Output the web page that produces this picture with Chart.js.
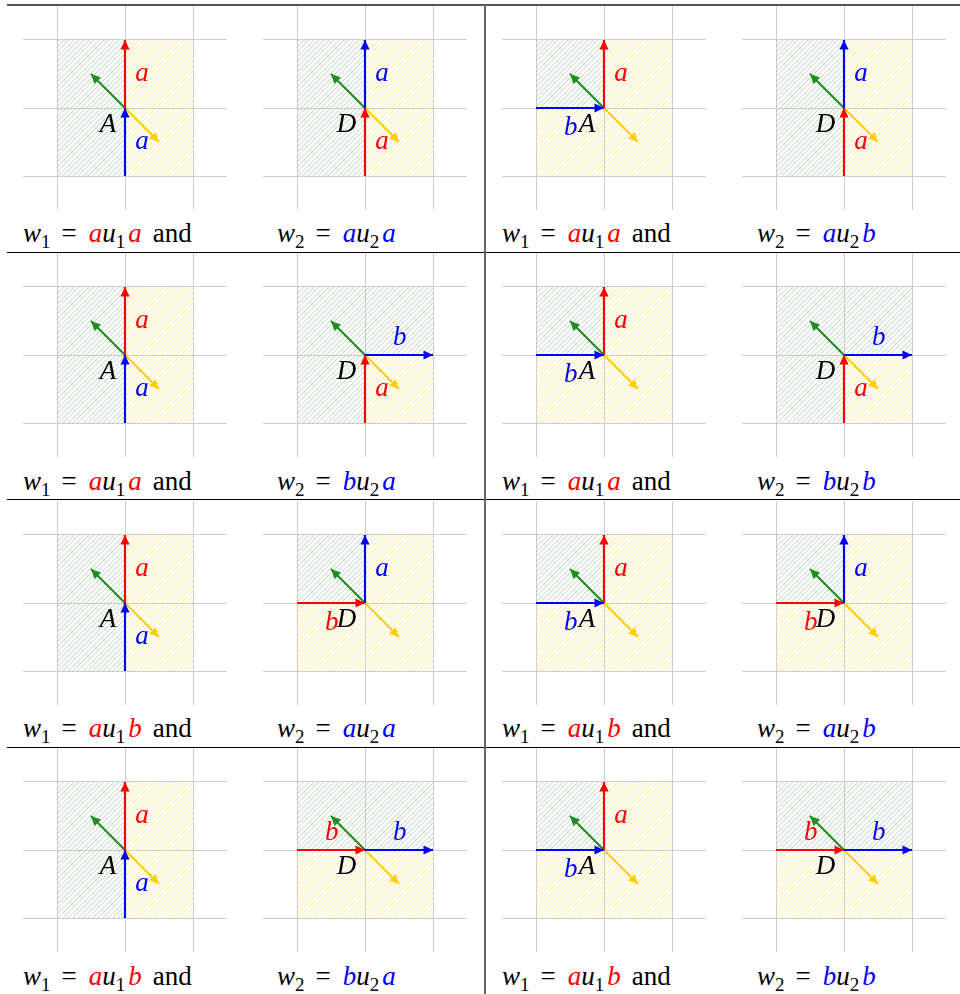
<!DOCTYPE html>
<html>
<head>
<meta charset="utf-8">
<script src="https://cdn.jsdelivr.net/npm/chart.js@4.4.1/dist/chart.umd.min.js"></script>
<style>
  html, body { margin: 0; padding: 0; background: #fff; }
  #fig { position: relative; width: 960px; height: 994px; overflow: hidden; font-family: "Liberation Serif", "Times New Roman", "DejaVu Serif", serif; }
  canvas.diag { position: absolute; }
  .rule { position: absolute; }
  .formula { position: absolute; font-size: 27px; line-height: 27px; white-space: nowrap; color: #000; }
  .formula .s { font-size: 19px; position: relative; top: 6px; margin-right: 3px; }
  .formula .eq { margin: 0 12px 0 8px; }
  .formula .and { margin-left: 11px; }
  .r { color: #ff0000; }
  .b { color: #0000ff; }
</style>
</head>
<body>
<div id="fig"></div>
<script>
// grid of each small diagram
const GRID_TICKS = [-1, 0, 1];

// edge vectors (start, end) in grid units
const EDGES = {
  upOut:    [[0, 0], [0, 1]],
  upIn:     [[0, -1], [0, 0]],
  rightOut: [[0, 0], [1, 0]],
  rightIn:  [[-1, 0], [0, 0]]
};
const GREEN_EDGE = [[0, 0], [-0.5, 0.5]];
const YELLOW_EDGE = [[0, 0], [0.5, -0.5]];

// quadrants by lower-left corner
const QUADS = { TL: [-1, 0], TR: [0, 0], BL: [-1, -1], BR: [0, -1] };

// 16 diagrams, row by row: A (left), D (left), A (right), D (right)
const vertexNames = [
  'A', 'D', 'A', 'D',
  'A', 'D', 'A', 'D',
  'A', 'D', 'A', 'D',
  'A', 'D', 'A', 'D'
];
const redEdges = [
  'upOut', 'upIn', 'upOut', 'upIn',
  'upOut', 'upIn', 'upOut', 'upIn',
  'upOut', 'rightIn', 'upOut', 'rightIn',
  'upOut', 'rightIn', 'upOut', 'rightIn'
];
const blueEdges = [
  'upIn', 'upOut', 'rightIn', 'upOut',
  'upIn', 'rightOut', 'rightIn', 'rightOut',
  'upIn', 'upOut', 'rightIn', 'upOut',
  'upIn', 'rightOut', 'rightIn', 'rightOut'
];
const redLabels = [
  'a', 'a', 'a', 'a',
  'a', 'a', 'a', 'a',
  'a', 'b', 'a', 'b',
  'a', 'b', 'a', 'b'
];
const blueLabels = [
  'a', 'a', 'b', 'a',
  'a', 'b', 'b', 'b',
  'a', 'a', 'b', 'a',
  'a', 'b', 'b', 'b'
];
const redLabelPos = [
  [0.15, 0.40], [0.15, -0.60], [0.15, 0.40], [0.15, -0.60],
  [0.15, 0.40], [0.15, -0.60], [0.15, 0.40], [0.15, -0.60],
  [0.15, 0.40], [-0.49, -0.40], [0.15, 0.40], [-0.49, -0.40],
  [0.15, 0.40], [-0.49, 0.15], [0.15, 0.40], [-0.49, 0.15]
];
const blueLabelPos = [
  [0.15, -0.60], [0.15, 0.40], [-0.49, -0.40], [0.15, 0.40],
  [0.15, -0.60], [0.51, 0.15], [-0.49, -0.40], [0.51, 0.15],
  [0.15, -0.60], [0.15, 0.40], [-0.49, -0.40], [0.15, 0.40],
  [0.15, -0.60], [0.51, 0.15], [-0.49, -0.40], [0.51, 0.15]
];
const VERTEX_LABEL_POS = [-0.13, -0.36];
const greenQuads = [
  ['TL', 'BL'], ['TL', 'BL'], ['TL'], ['TL', 'BL'],
  ['TL', 'BL'], ['TL', 'TR', 'BL'], ['TL'], ['TL', 'TR', 'BL'],
  ['TL', 'BL'], ['TL'], ['TL'], ['TL'],
  ['TL', 'BL'], ['TL', 'TR'], ['TL'], ['TL', 'TR']
];
const yellowQuads = [
  ['TR', 'BR'], ['TR', 'BR'], ['TR', 'BL', 'BR'], ['TR', 'BR'],
  ['TR', 'BR'], ['BR'], ['TR', 'BL', 'BR'], ['BR'],
  ['TR', 'BR'], ['TR', 'BL', 'BR'], ['TR', 'BL', 'BR'], ['TR', 'BL', 'BR'],
  ['TR', 'BR'], ['BL', 'BR'], ['TR', 'BL', 'BR'], ['BL', 'BR']
];

// words under each cell (row by row, left then right)
const w1Words = [['a', 'a'], ['a', 'a'], ['a', 'a'], ['a', 'a'], ['a', 'b'], ['a', 'b'], ['a', 'b'], ['a', 'b']];
const w2Words = [['a', 'a'], ['a', 'b'], ['b', 'a'], ['b', 'b'], ['a', 'a'], ['a', 'b'], ['b', 'a'], ['b', 'b']];

const COLORS = { red: '#ff0000', blue: '#0000ff', green: '#228b22', yellow: '#ffd000' };

const fig = document.getElementById('fig');

// layout
const DIAG_LEFT = [23, 263, 502, 742];
const DIAG_TOP = [6, 253, 501, 748];
const DIAG_SIZE = 204;
const W1_LEFT = [23, 502];
const W2_LEFT = [277, 757];
const BASELINES = [242.7, 490.2, 737.7, 985.2];

function hatch(color) {
  const s = 5;
  const c = document.createElement('canvas');
  c.width = s; c.height = s;
  const g = c.getContext('2d');
  g.strokeStyle = color;
  g.lineWidth = 0.7;
  g.beginPath();
  g.moveTo(0, s); g.lineTo(s, 0);
  g.moveTo(-1, 1); g.lineTo(1, -1);
  g.moveTo(s - 1, s + 1); g.lineTo(s + 1, s - 1);
  g.stroke();
  return g.createPattern(c, 'repeat');
}
const greenHatch = hatch('#9cd09c');
const yellowHatch = hatch('#ffe070');

function quadDataset(q, pattern) {
  const [x0, y0] = QUADS[q];
  return {
    data: [{ x: x0, y: y0 + 1 }, { x: x0 + 1, y: y0 + 1 }],
    showLine: true,
    fill: { value: y0 },
    backgroundColor: pattern,
    borderColor: 'transparent',
    borderWidth: 0,
    pointRadius: 0
  };
}

function arrowDataset(edge, color) {
  return {
    data: edge.map(p => ({ x: p[0], y: p[1] })),
    showLine: true,
    fill: false,
    borderColor: color,
    borderWidth: 2.2,
    borderCapStyle: 'butt',
    pointRadius: 0,
    arrowHead: true
  };
}

const arrowHeads = {
  id: 'arrowHeads',
  afterDatasetsDraw(chart) {
    const ctx = chart.ctx;
    const sets = chart.data.datasets;
    for (let i = sets.length - 1; i >= 0; i--) {
      if (!sets[i].arrowHead) continue;
      const pts = chart.getDatasetMeta(i).data;
      const a = pts[0], b = pts[pts.length - 1];
      const ang = Math.atan2(b.y - a.y, b.x - a.x);
      const len = 9.5, half = 4.6;
      ctx.save();
      ctx.translate(b.x, b.y);
      ctx.rotate(ang);
      ctx.fillStyle = sets[i].borderColor;
      ctx.beginPath();
      ctx.moveTo(0, 0);
      ctx.lineTo(-len, -half);
      ctx.lineTo(-len, half);
      ctx.closePath();
      ctx.fill();
      ctx.restore();
    }
  }
};

function labelPlugin(items) {
  return {
    id: 'edgeLabels',
    afterDatasetsDraw(chart) {
      const { ctx, scales } = chart;
      ctx.save();
      ctx.font = 'italic 27px "Liberation Serif", "Times New Roman", serif';
      ctx.textBaseline = 'alphabetic';
      items.forEach(it => {
        ctx.fillStyle = it.color;
        ctx.textAlign = it.align;
        ctx.fillText(it.text, scales.x.getPixelForValue(it.x), scales.y.getPixelForValue(it.y));
      });
      ctx.restore();
    }
  };
}

function labelAlign(edge) {
  return edge.startsWith('up') ? 'left' : 'center';
}

const axis = {
  type: 'linear',
  min: -1.5,
  max: 1.5,
  afterBuildTicks: s => { s.ticks = GRID_TICKS.map(v => ({ value: v })); },
  ticks: { display: false },
  grid: { color: '#cccccc', lineWidth: 1, drawTicks: false },
  border: { display: false }
};

vertexNames.forEach((name, i) => {
  const row = Math.floor(i / 4), col = i % 4;
  const canvas = document.createElement('canvas');
  canvas.className = 'diag';
  canvas.width = DIAG_SIZE;
  canvas.height = DIAG_SIZE;
  canvas.style.left = DIAG_LEFT[col] + 'px';
  canvas.style.top = DIAG_TOP[row] + 'px';
  fig.appendChild(canvas);

  const datasets = [
    arrowDataset(EDGES[blueEdges[i]], COLORS.blue),
    arrowDataset(EDGES[redEdges[i]], COLORS.red),
    arrowDataset(YELLOW_EDGE, COLORS.yellow),
    arrowDataset(GREEN_EDGE, COLORS.green)
  ];
  greenQuads[i].forEach(q => datasets.push(quadDataset(q, greenHatch)));
  yellowQuads[i].forEach(q => datasets.push(quadDataset(q, yellowHatch)));

  const items = [
    { text: redLabels[i], x: redLabelPos[i][0], y: redLabelPos[i][1], color: COLORS.red, align: labelAlign(redEdges[i]) },
    { text: blueLabels[i], x: blueLabelPos[i][0], y: blueLabelPos[i][1], color: COLORS.blue, align: labelAlign(blueEdges[i]) },
    { text: name, x: VERTEX_LABEL_POS[0], y: VERTEX_LABEL_POS[1], color: '#000', align: 'right' }
  ];

  new Chart(canvas, {
    type: 'scatter',
    data: { datasets },
    options: {
      responsive: false,
      animation: false,
      events: [],
      layout: { padding: 0 },
      plugins: { legend: { display: false }, tooltip: { enabled: false } },
      scales: { x: axis, y: axis }
    },
    plugins: [arrowHeads, labelPlugin(items)]
  });
});

// formulas
function formula(idx, letters, cls, tail) {
  return '<i>w</i><span class="s">' + idx + '</span><span class="eq">=</span>' +
    '<i class="' + cls + '">' + letters[0] + '</i><i>u</i><span class="s">' + idx + '</span>' +
    '<i class="' + cls + '">' + letters[1] + '</i>' + tail;
}
w1Words.forEach((w1, k) => {
  const row = Math.floor(k / 2), half = k % 2;
  const top = BASELINES[row] - 22.6;
  const d1 = document.createElement('div');
  d1.className = 'formula';
  d1.style.left = W1_LEFT[half] + 'px';
  d1.style.top = top + 'px';
  d1.innerHTML = formula(1, w1, 'r', '<span class="and">and</span>');
  fig.appendChild(d1);
  const d2 = document.createElement('div');
  d2.className = 'formula';
  d2.style.left = W2_LEFT[half] + 'px';
  d2.style.top = top + 'px';
  d2.innerHTML = formula(2, w2Words[k], 'b', '');
  fig.appendChild(d2);
});

// table rules
function rule(left, top, width, height, color) {
  const d = document.createElement('div');
  d.className = 'rule';
  Object.assign(d.style, { left: left + 'px', top: top + 'px', width: width + 'px', height: height + 'px', background: color });
  fig.appendChild(d);
}
rule(7, 4, 953, 1.5, '#555');
[252, 499, 747].forEach(y => rule(7, y, 953, 1, '#000'));
rule(484, 4, 2, 990, '#666');
</script>
</body>
</html>
